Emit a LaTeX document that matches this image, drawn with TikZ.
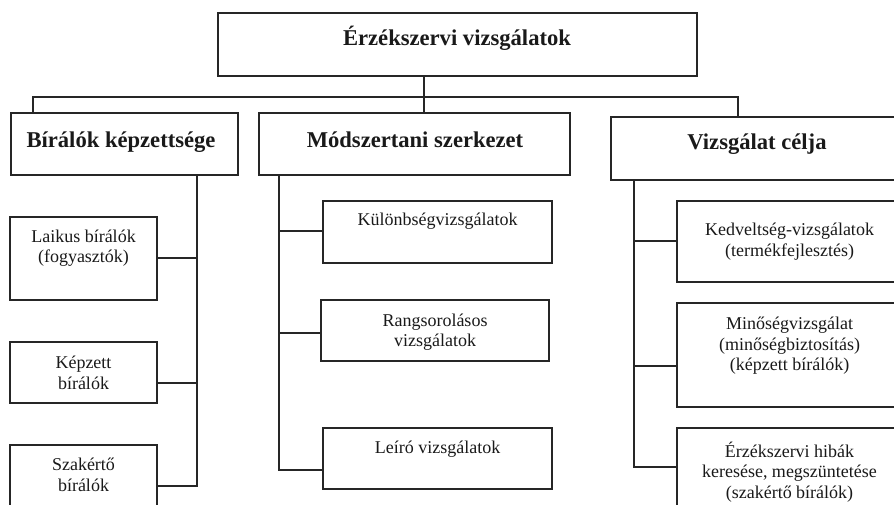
\documentclass[tikz,border=0pt]{standalone}
\usepackage{fontspec}
\setmainfont{Liberation Serif}
\begin{document}
\begin{tikzpicture}[x=1pt,y=-1pt,
  box/.style={draw=black!85,line width=1.7pt,rectangle,inner sep=0pt,fill=none},
  head/.style={font=\fontsize{22.6}{24}\selectfont\bfseries,text=black!90,inner sep=0pt},
  txt/.style={font=\fontsize{18}{20.5}\selectfont,align=center,text=black!90,inner sep=0pt},
  con/.style={draw=black!85,line width=1.7pt,line cap=rect}]
\useasboundingbox (0,0) rectangle (894,504);
\clip (0,0) rectangle (894,504);
% top
\node[box,minimum width=479pt,minimum height=63pt] (top) at (457.5,44.5) {};
\node[head,anchor=base] (topt) at (457,45) {Érzékszervi vizsgálatok};
% headers
\node[box,minimum width=227pt,minimum height=62pt] (h1) at (124.5,144) {};
\node[head,anchor=base] (h1t) at (121,147) {Bírálók képzettsége};
\node[box,minimum width=311pt,minimum height=62pt] (h2) at (414.5,144) {};
\node[head,anchor=base] (h2t) at (415,147) {Módszertani szerkezet};
\node[box,minimum width=292pt,minimum height=63pt] (h3) at (757,148.5) {};
\node[head,anchor=base] (h3t) at (757,149) {Vizsgálat célja};
% top connectors
\coordinate (b0) at (424,97);
\coordinate (bl) at (33,97);
\coordinate (br) at (738,97);
\draw[con] (top.south -| b0) -- (b0);
\draw[con] (bl |- h1.north) -- (bl) -- (br) -- (br |- h3.north);
\draw[con] (b0) -- (b0 |- h2.north);
% left column
\node[box,minimum width=147pt,minimum height=83pt] (L1) at (83.5,258.5) {};
\node[txt] (L1t) at (83.5,248) {Laikus bírálók\\(fogyasztók)};
\node[box,minimum width=147pt,minimum height=61pt] (L2) at (83.5,372.5) {};
\node[txt] (L2t) at (83.5,373) {Képzett\\bírálók};
\node[box,minimum width=147pt,minimum height=85pt] (L3) at (83.5,487.5) {};
\node[txt] (L3t) at (83.5,475) {Szakértő\\bírálók};
\coordinate (lt) at (197,175);
\coordinate (l1) at (197,258);
\coordinate (l2) at (197,383);
\coordinate (l3) at (197,486);
\draw[con] (lt) -- (l3);
\draw[con] (l1) -- (l1 -| L1.east);
\draw[con] (l2) -- (l2 -| L2.east);
\draw[con] (l3) -- (l3 -| L3.east);
% middle column
\node[box,minimum width=229pt,minimum height=62pt] (M1) at (437.5,232) {};
\node[txt] (M1t) at (437.5,221) {Különbségvizsgálatok};
\node[box,minimum width=228pt,minimum height=61pt] (M2) at (435,330.5) {};
\node[txt] (M2t) at (435,332) {Rangsorolásos\\vizsgálatok};
\node[box,minimum width=229pt,minimum height=61pt] (M3) at (437.5,458.5) {};
\node[txt] (M3t) at (437.5,449) {Leíró vizsgálatok};
\coordinate (mt) at (279,175);
\coordinate (m1) at (279,231);
\coordinate (m2) at (279,333);
\coordinate (m3) at (279,470);
\draw[con] (mt) -- (m3);
\draw[con] (m1) -- (m1 -| M1.west);
\draw[con] (m2) -- (m2 -| M2.west);
\draw[con] (m3) -- (m3 -| M3.west);
% right column
\node[box,minimum width=225pt,minimum height=81pt] (R1) at (789.5,241.5) {};
\node[txt] (R1t) at (789.5,241.5) {Kedveltség-vizsgálatok\\(termékfejlesztés)};
\node[box,minimum width=225pt,minimum height=104pt] (R2) at (789.5,355) {};
\node[txt] (R2t) at (789.5,346) {Minőségvizsgálat\\(minőségbiztosítás)\\(képzett bírálók)};
\node[box,minimum width=225pt,minimum height=104pt] (R3) at (789.5,480) {};
\node[txt] (R3t) at (789.5,472) {Érzékszervi hibák\\keresése, megszüntetése\\(szakértő bírálók)};
\coordinate (rt) at (634,180);
\coordinate (r1) at (634,241);
\coordinate (r2) at (634,366);
\coordinate (r3) at (634,467);
\draw[con] (rt) -- (r3);
\draw[con] (r1) -- (r1 -| R1.west);
\draw[con] (r2) -- (r2 -| R2.west);
\draw[con] (r3) -- (r3 -| R3.west);
\end{tikzpicture}
\end{document}
